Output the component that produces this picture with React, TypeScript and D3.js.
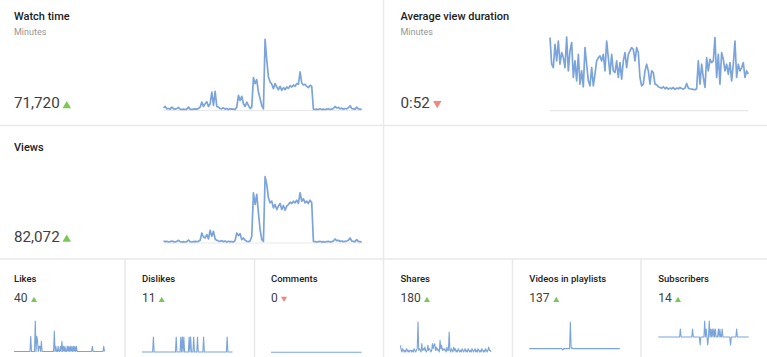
import React from 'react';
import * as d3 from 'd3';

// ---- data (daily values) ----
const watchTime = [
  8, 12, 5, 6, 4, 10, 5, 4, 6, 9,
  4, 3, 4, 3, 4, 10, 4, 3, 4, 5,
  4, 6, 10, 25, 12, 20, 26, 12, 20, 55,
  15, 57, 12, 10, 6, 5, 8, 4, 6, 3,
  5, 4, 4, 3, 10, 45, 30, 42, 20, 12,
  25, 15, 6, 10, 98, 80, 92, 55, 35, 15,
  5, 212, 150, 100, 85, 78, 65, 80, 70, 62,
  72, 60, 68, 62, 70, 66, 74, 70, 76, 72,
  80, 78, 115, 82, 76, 78, 72, 68, 75, 72,
  4, 3, 4, 3, 5, 3, 4, 3, 4, 5,
  3, 4, 6, 12, 8, 9, 5, 7, 4, 6,
  5, 8, 14, 6, 5, 4, 10, 5, 4, 3,
];

const views = [
  6, 4, 5, 3, 4, 6, 4, 3, 5, 8,
  4, 3, 4, 3, 4, 9, 4, 3, 4, 5,
  4, 5, 8, 30, 18, 15, 25, 12, 38, 20,
  35, 12, 8, 6, 5, 7, 4, 6, 3, 5,
  4, 4, 3, 8, 30, 22, 28, 10, 15, 8,
  5, 4, 6, 20, 150, 115, 145, 90, 40, 10,
  5, 198, 175, 135, 120, 125, 105, 115, 100, 110,
  118, 100, 112, 98, 110, 115, 122, 118, 125, 120,
  128, 118, 150, 125, 132, 120, 125, 118, 128, 120,
  5, 4, 3, 4, 5, 3, 4, 3, 4, 5,
  3, 4, 6, 12, 7, 8, 5, 6, 4, 5,
  6, 8, 15, 6, 5, 4, 10, 5, 4, 3,
];

const avgDuration = [
  220, 140, 130, 200, 150, 210, 140, 175, 160, 130,
  222, 120, 180, 205, 100, 150, 90, 170, 80, 120,
  72, 190, 140, 90, 75, 130, 75, 110, 150, 160,
  165, 150, 170, 120, 210, 160, 110, 170, 120, 115,
  150, 100, 145, 95, 150, 175, 130, 170, 180, 190,
  185, 150, 190, 175, 100, 75, 80, 120, 140, 120,
  80, 120, 115, 80, 78, 72, 70, 68, 72, 66,
  70, 65, 68, 66, 70, 64, 68, 66, 70, 67,
  65, 68, 82, 68, 66, 65, 64, 63, 66, 150,
  80, 140, 100, 70, 160, 120, 155, 145, 150, 220,
  100, 170, 80, 175, 155, 120, 140, 110, 145, 90,
  140, 210, 100, 140, 120, 130, 145, 100, 120, 110,
];

const likes = [
  0, 0, 0, 0, 0, 0, 0, 0, 0, 0,
  0, 0, 0, 0, 0, 0, 0, 0, 0, 0,
  0, 0, 3, 0, 0, 0, 0, 0, 6, 0,
  3, 2, 0, 1, 1, 0, 2, 0, 0, 0,
  0, 0, 0, 0, 0, 0, 0, 0, 0, 0,
  0, 0, 0, 4, 0, 1, 0, 0, 1, 0,
  0, 1, 0, 2, 0, 1, 0, 1, 0, 0,
  1, 0, 1, 0, 1, 0, 1, 0, 1, 0,
  1, 0, 1, 0, 0, 0, 0, 0, 0, 0,
  0, 0, 0, 0, 0, 0, 0, 0, 0, 0,
  0, 0, 0, 1, 0, 0, 0, 0, 0, 0,
  0, 0, 0, 0, 0, 0, 0, 0, 1, 0,
];

const dislikes = [
  0, 0, 0, 0, 0, 0, 0, 0, 0, 0,
  0, 0, 0, 0, 0, 1, 0, 0, 0, 0,
  0, 0, 0, 0, 0, 0, 0, 0, 0, 0,
  0, 0, 0, 0, 0, 0, 0, 0, 0, 0,
  0, 0, 0, 0, 0, 1, 0, 0, 0, 0,
  0, 1, 0, 1, 0, 1, 0, 0, 0, 0,
  0, 0, 1, 0, 1, 0, 0, 0, 1, 0,
  0, 0, 0, 1, 0, 0, 0, 0, 0, 0,
  0, 1, 0, 0, 0, 0, 0, 0, 0, 0,
  0, 0, 0, 0, 0, 0, 0, 0, 0, 0,
  0, 0, 0, 0, 0, 0, 0, 0, 0, 0,
  0, 0, 1, 0, 0, 0, 0, 0, 0, 0,
];

const comments = [
  0, 0, 0, 0, 0, 0, 0, 0, 0, 0,
  0, 0, 0, 0, 0, 0, 0, 0, 0, 0,
  0, 0, 0, 0, 0, 0, 0, 0, 0, 0,
  0, 0, 0, 0, 0, 0, 0, 0, 0, 0,
  0, 0, 0, 0, 0, 0, 0, 0, 0, 0,
  0, 0, 0, 0, 0, 0, 0, 0, 0, 0,
  0, 0, 0, 0, 0, 0, 0, 0, 0, 0,
  0, 0, 0, 0, 0, 0, 0, 0, 0, 0,
  0, 0, 0, 0, 0, 0, 0, 0, 0, 0,
  0, 0, 0, 0, 0, 0, 0, 0, 0, 0,
  0, 0, 0, 0, 0, 0, 0, 0, 0, 0,
  0, 0, 0, 0, 0, 0, 0, 0, 0, 0,
];

const shares = [
  4, 1, 0, 2, 1, 0, 1, 0, 2, 1,
  0, 1, 0, 1, 1, 0, 1, 0, 2, 1,
  0, 1, 2, 18, 1, 2, 1, 0, 5, 1,
  2, 1, 3, 1, 0, 1, 4, 1, 2, 1,
  0, 1, 5, 2, 4, 5, 1, 3, 1, 2,
  1, 0, 7, 2, 4, 1, 2, 1, 2, 1,
  0, 3, 1, 1, 12, 1, 0, 2, 1, 0,
  3, 1, 2, 0, 1, 0, 2, 1, 0, 1,
  0, 2, 1, 0, 1, 2, 0, 1, 0, 2,
  1, 0, 1, 0, 2, 1, 0, 1, 2, 0,
  1, 0, 2, 1, 0, 1, 0, 2, 1, 0,
  1, 0, 2, 1, 0, 1, 3, 1, 1, 0,
];

const videosInPlaylists = [
  0, 0, 0, 0, 0, 0, 0, 0, 0, 0,
  0, 0, 0, 0, 0, 0, 0, 0, 0, 0,
  0, 0, 0, 0, 0, 0, 0, 0, 0, 0,
  0, 0, 0, 0, 0, 0, 0, 0, 0, 0,
  0, 0, 0, 0, -2, 0, 0, 0, 0, 0,
  0, 0, 0, 0, 40, 2, 0, 1, 0, 0,
  0, 0, 0, 0, 0, 0, 0, 0, 0, 0,
  0, 0, 0, 0, 0, 0, 0, 0, 0, 0,
  0, 0, 0, 0, 0, 0, 0, 0, 0, 0,
  0, 0, 0, 0, 0, 0, 0, 0, 0, 0,
  0, 0, 0, 0, 0, 0, 0, 0, 0, 0,
  0, 0, 0, 0, 0, 0, 0, 0, 0, 0,
];

const subscribers = [
  0, 0, 0, 0, 0, 0, 0, 0, 0, 0,
  0, 0, 0, 0, 0, 0, 0, 0, 0, 0,
  0, 0, 0, 0, 0, 0, 0, 0, 0, 1,
  0, 0, 0, 0, 0, 0, 0, 0, 0, 0,
  0, 0, 0, 0, 0, 1, 0, 0, 0, 0,
  0, 0, 0, 0, 0, -1, 0, 0, 0, 0,
  0, 2, 0, 1, 0, -1, 0, 2, 0, 1,
  0, 1, 0, 1, 0, 1, 0, 0, 0, 1,
  0, 1, 0, 0, 1, 0, 0, 0, 0, 0,
  0, 0, 0, 0, 0, -1, 0, 0, 0, 0,
  0, 0, 0, 1, 0, 0, 0, 0, 0, 0,
  0, 0, 0, 0, 0, 0, 0, 0, 0, 0,
];

const topTitles = ['Watch time', 'Average view duration', 'Views'];
const topTotals = ['71,720', '0:52', '82,072'];
const topTrends = ['up', 'down', 'up'];
const topUnits = ['Minutes', 'Minutes', ''];

const smallTitles = ['Likes', 'Dislikes', 'Comments', 'Shares', 'Videos in playlists', 'Subscribers'];
const smallTotals = ['40', '11', '0', '180', '137', '14'];
const smallTrends = ['up', 'up', 'down', 'up', 'up', 'up'];

// ---- styling ----
const LINE = '#7ba4db';
const GRID = '#e9e9e9';
const UP = '#7cc657';
const DOWN = '#f4867e';
const FONT = 'Roboto, "Noto Sans", Arial, sans-serif';

type SparkProps = {
  values: number[];
  x0: number; x1: number;
  yBottom: number; yTop: number;
  domain: [number, number];
  width: number;
  baseline?: boolean;
};

function Spark({ values, x0, x1, yBottom, yTop, domain, width, baseline }: SparkProps) {
  const x = d3.scaleLinear().domain([0, values.length - 1]).range([x0, x1]);
  const y = d3.scaleLinear().domain(domain).range([yBottom, yTop]);
  const line = d3.line<number>().x((_, i) => x(i)).y((d) => y(d));
  return (
    <g>
      {baseline && (
        <line x1={x0} x2={x1} y1={y(0)} y2={y(0)} stroke="#e8e8e8" strokeWidth={1.2} />
      )}
      <path d={line(values) || ''} fill="none" stroke={LINE} strokeWidth={width} strokeLinejoin="round" />
    </g>
  );
}

function Tri({ x, yBase, w, h, dir }: { x: number; yBase: number; w: number; h: number; dir: string }) {
  const d = dir === 'up'
    ? `M${x},${yBase} L${x + w},${yBase} L${x + w / 2},${yBase - h} Z`
    : `M${x},${yBase - h} L${x + w},${yBase - h} L${x + w / 2},${yBase} Z`;
  return <path d={d} fill={dir === 'up' ? UP : DOWN} />;
}

export default function App() {
  const W = 767, H = 357;

  const topLayout = [
    { tx: 14, ty: 19.5, uy: 35, vy: 108.3, triX: 62.5, chart: { values: watchTime, x0: 163.5, x1: 361.7, yBottom: 110.5, yTop: 39.3, domain: [0, 212] as [number, number] } },
    { tx: 400.5, ty: 19.5, uy: 35, vy: 108.3, triX: 433, chart: { values: avgDuration, x0: 550, x1: 748.3, yBottom: 110.7, yTop: 37, domain: [0, 222] as [number, number] } },
    { tx: 14, ty: 150.7, uy: 0, vy: 241.7, triX: 62.5, chart: { values: views, x0: 163.5, x1: 361.7, yBottom: 243, yTop: 176.7, domain: [0, 198] as [number, number] } },
  ];

  const smallSeries = [likes, dislikes, comments, shares, videosInPlaylists, subscribers];
  const smallX = [14, 142, 271, 400.5, 529.3, 658.3];
  const smallTriX = [31, 158.7, 281, 424, 553.3, 675];
  const smallDomains: [number, number][] = [[0, 6], [0, 2], [0, 1], [0, 18], [-5, 40], [-2, 2]];
  const smallRanges: [number, number][] = [[351.5, 321], [352, 322], [352.3, 322], [352, 322], [352, 322], [353, 321]];

  return (
    <svg width={W} height={H} style={{ position: 'absolute', left: 0, top: 0, background: '#fff' }} fontFamily={FONT}>
      <rect x={0} y={0} width={W} height={H} fill="#fff" />
      {/* grid lines */}
      <line x1={0} x2={W} y1={125.5} y2={125.5} stroke={GRID} strokeWidth={1.5} />
      <line x1={0} x2={W} y1={259} y2={259} stroke={GRID} strokeWidth={1.5} />
      <line x1={383.5} x2={383.5} y1={0} y2={H} stroke={GRID} strokeWidth={1.5} />
      {[125, 254.5, 512.5, 641].map((vx) => (
        <line key={vx} x1={vx} x2={vx} y1={259} y2={H} stroke={GRID} strokeWidth={1.5} />
      ))}

      {topLayout.map((p, i) => (
        <g key={topTitles[i]}>
          <text x={p.tx} y={p.ty} fontSize={11} fontWeight={500} fill="#212121">{topTitles[i]}</text>
          {topUnits[i] && (
            <text x={p.tx} y={p.uy} fontSize={9} fill="#959595">{topUnits[i]}</text>
          )}
          <text x={p.tx} y={p.vy} fontSize={15.2} fill="#404040">{topTotals[i]}</text>
          <Tri x={p.triX} yBase={p.vy} w={8.5} h={7.3} dir={topTrends[i]} />
          <Spark {...p.chart} width={1.7} baseline />
        </g>
      ))}

      {smallSeries.map((s, i) => (
        <g key={smallTitles[i]}>
          <text x={smallX[i]} y={282.3} fontSize={9.5} fontWeight={500} fill="#212121">{smallTitles[i]}</text>
          <text x={smallX[i]} y={302} fontSize={12} fill="#404040">{smallTotals[i]}</text>
          <Tri x={smallTriX[i]} yBase={302} w={6} h={5.3} dir={smallTrends[i]} />
          <Spark values={s} x0={smallX[i]} x1={smallX[i] + 90.5} yBottom={smallRanges[i][0]} yTop={smallRanges[i][1]} domain={smallDomains[i]} width={1.1} />
        </g>
      ))}
    </svg>
  );
}
